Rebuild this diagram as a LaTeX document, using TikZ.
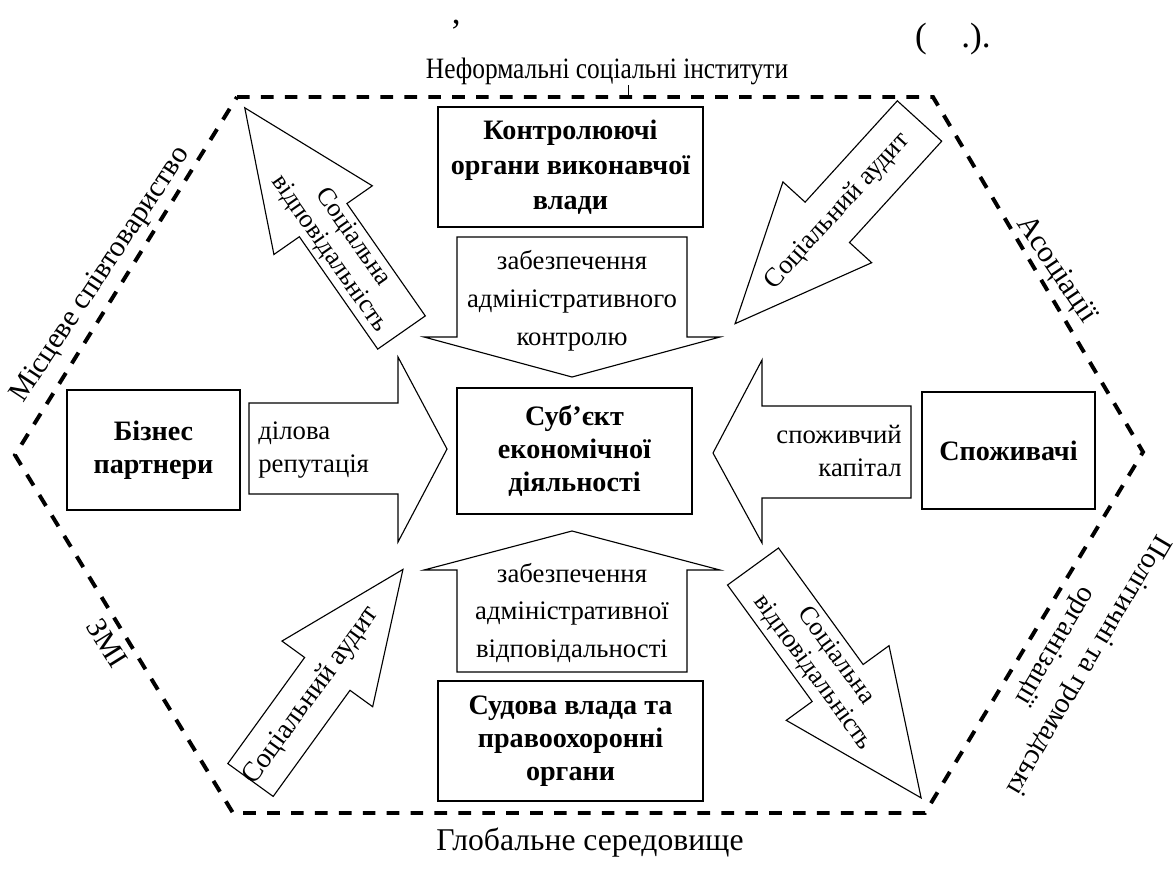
\documentclass[tikz,border=0pt]{standalone}
\usepackage{fontspec}
\setmainfont{Liberation Serif}
\newfontfamily\narrowfont[FakeStretch=0.86]{Liberation Serif}
\usetikzlibrary{positioning}

\begin{document}
\begin{tikzpicture}[x=0.025cm,y=-0.025cm,
                    font=\fontsize{19}{24}\selectfont,
                    hex/.style={line width=2.8pt,dash pattern=on 9pt off 8pt},
                    barrow/.style={draw,line width=0.8pt,fill=white},
                    lbl/.style={align=center,inner sep=0pt},
                    diag/.style={lbl,font=\fontsize{19}{20.5}\selectfont}]

  \tikzstyle{box}=[draw,line width=1.2pt,align=center,inner sep=0pt,
                   font=\fontsize{20}{23.4}\selectfont\bfseries]

  \useasboundingbox (0,0) rectangle (1175,869);

  \coordinate (H1) at (237,97);
  \coordinate (H2) at (933,97);
  \coordinate (H3) at (1143,452);
  \coordinate (H4) at (925,813);
  \coordinate (H5) at (233,813);
  \coordinate (H6) at (15,455);
  \draw[hex] (H1) -- (H2) -- (H3) -- (H4) -- (H5) -- (H6) -- cycle;

  \node[lbl,font=\fontsize{25}{28}\selectfont] (AP) at (456,32) {’};
  \node[lbl,font=\fontsize{25}{28}\selectfont] (PL) at (921,39) {(};
  \node[lbl,font=\fontsize{25}{28}\selectfont] (PR) at (976,39) {.).};

  \node[lbl,font=\fontsize{21}{24}\narrowfont] (NSI) at (607,71)
       {Неформальні соціальні інститути};
  \coordinate (tick) at (628,97);
  \draw[line width=0.7pt] (tick) -- ++(0,-12);
  \node[lbl,font=\fontsize{22.5}{26}\selectfont] (GS) at (590,843)
       {Глобальне середовище};
  \node[lbl,rotate=56.5,font=\fontsize{21}{24}\selectfont] (MS) at (101,275)
       {Місцеве співтовариство};
  \node[lbl,rotate=-58,font=\fontsize{21}{24}\selectfont] (ZMI) at (107,643)
       {ЗМІ};
  \node[lbl,rotate=-56,font=\fontsize{21.5}{24}\selectfont] (ASO) at (1056,270)
       {Асоціації};
  \node[lbl,rotate=-120.5,font=\fontsize{20.5}{27}\selectfont]
       (POL) at (1071,655) {Політичні та громадські\\організації};

  \node[box,minimum width=6.63cm,minimum height=3cm,
        font=\fontsize{20}{25}\selectfont\bfseries]
       (KOV) at (570.5,167) {Контролюючі\\органи виконавчої\\влади};
  \node[box,minimum width=5.88cm,minimum height=3.15cm]
       (SUB) at (574.5,451) {Суб’єкт\\економічної\\діяльності};
  \node[box,minimum width=6.63cm,minimum height=3cm]
       (SUD) at (570.5,741) {Судова влада та\\правоохоронні\\органи};
  \node[box,minimum width=4.33cm,minimum height=3cm]
       (BIZ) at (153.5,450) {Бізнес\\партнери};
  \node[box,minimum width=4.33cm,minimum height=2.93cm]
       (SPO) at (1008.5,450.5) {Споживачі};

  \draw[barrow] (457,237) -- (687,237) -- (687,337) -- (720,337) -- (572,377)
                -- (424,337) -- (457,337) -- cycle;
  \draw[barrow] (457,672) -- (687,672) -- (687,570) -- (720,570) -- (572,531)
                -- (424,570) -- (457,570) -- cycle;
  \draw[barrow] (249,403) -- (398,403) -- (398,357) -- (447,449) -- (398,542)
                -- (398,494) -- (249,494) -- cycle;
  \draw[barrow] (911,406) -- (762,406) -- (762,360) -- (713,453) -- (762,543)
                -- (762,498) -- (911,498) -- cycle;

  \node[lbl,font=\fontsize{19}{27}\selectfont] (ZAK) at (572,301)
       {забезпечення\\адміністративного\\контролю};
  \node[lbl,font=\fontsize{19}{27}\selectfont] (ZAV) at (572,613)
       {забезпечення\\адміністративної\\відповідальності};
  \node[lbl,align=left,anchor=west]   (DR) at (258,450) {ділова\\репутація};
  \node[lbl,align=right,anchor=east]  (SK) at (902,451) {споживчий\\капітал};

  \begin{scope}[shift={(401.5,332.5)},rotate=124.9]
    \draw[barrow] (0,-29) -- (137,-29) -- (137,-60) -- (274,0) -- (137,60)
                  -- (137,29) -- (0,29) -- cycle;
    \coordinate (sv1) at (106,0);
  \end{scope}
  \begin{scope}[shift={(919.5,121)},rotate=227.7]
    \draw[barrow] (0,-30) -- (137,-30) -- (137,-60) -- (274,0) -- (137,60)
                  -- (137,30) -- (0,30) -- cycle;
    \coordinate (sa1) at (122,0);
  \end{scope}
  \begin{scope}[shift={(250.5,780)},rotate=54.1]
    \draw[barrow] (0,-28) -- (131,-28) -- (131,-56) -- (260,0) -- (131,56)
                  -- (131,28) -- (0,28) -- cycle;
    \coordinate (sa2) at (104,0);
  \end{scope}
  \begin{scope}[shift={(753,566.5)},rotate=-54]
    \draw[barrow] (0,-31.5) -- (144,-31.5) -- (144,-63.5) -- (286,0) -- (144,63.5)
                  -- (144,31.5) -- (0,31.5) -- cycle;
    \coordinate (sv2) at (121,0);
  \end{scope}

  \node[diag,rotate=-55.1,font=\fontsize{18.5}{20.5}\selectfont] (SV1) at (sv1)
       {Соціальна\\відповідальність};
  \node[diag,rotate=47.7] (SA1) at (sa1) {Соціальний аудит};
  \node[diag,rotate=54.1,font=\fontsize{20}{20.5}\selectfont] (SA2) at (sa2)
       {Соціальний аудит};
  \node[diag,rotate=-54,font=\fontsize{18.5}{20.5}\selectfont] (SV2) at (sv2)
       {Соціальна\\відповідальність};
\end{tikzpicture}
\end{document}
